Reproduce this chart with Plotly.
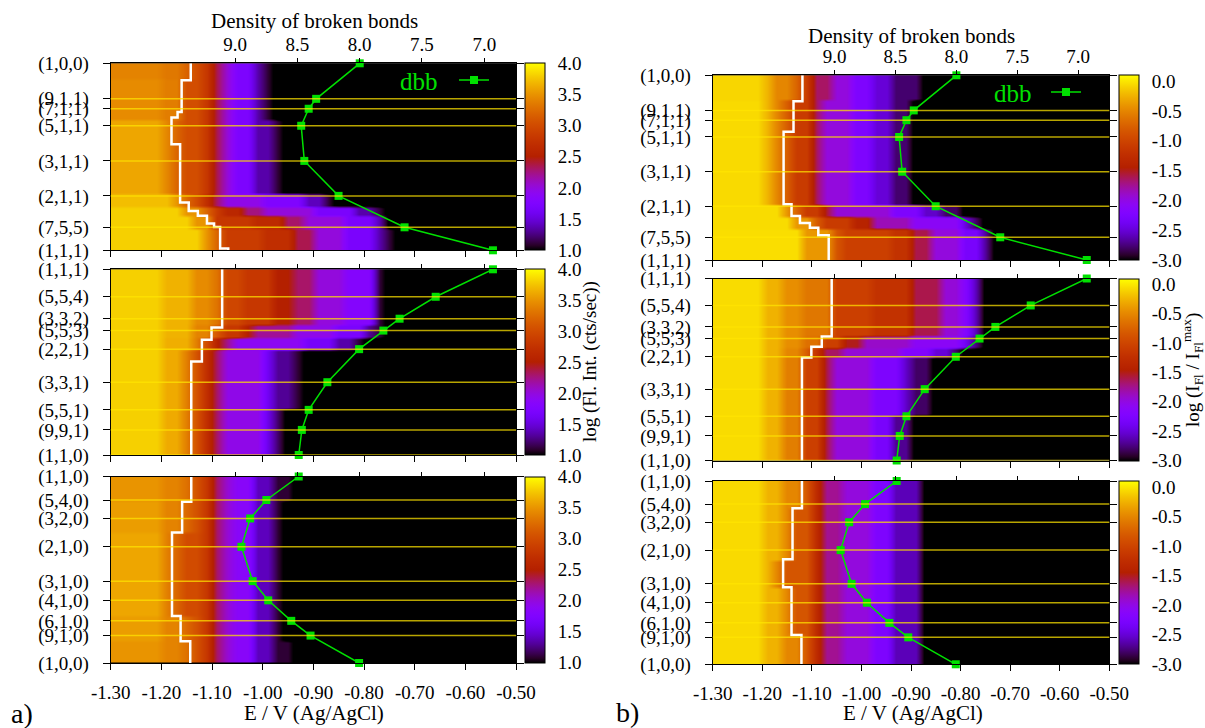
import numpy as np
import plotly.graph_objects as go

FONT = "Liberation Serif"
GREEN = "#00e000"

# ---------------------------------------------------------------------------
# Facets along the three zones, their position along the zone
# (0 = first facet, 1 = last facet) and the density of broken bonds
# ---------------------------------------------------------------------------
LABELS_100_111 = ["(1,0,0)", "(9,1,1)", "(7,1,1)", "(5,1,1)", "(3,1,1)", "(2,1,1)", "(7,5,5)", "(1,1,1)"]
POS_100_111 = [0.0, 0.190, 0.243, 0.334, 0.522, 0.709, 0.877, 1.0]
DBB_100_111 = [8.00, 8.35, 8.41, 8.47, 8.445, 8.17, 7.64, 6.93]

LABELS_111_110 = ["(1,1,1)", "(5,5,4)", "(3,3,2)", "(5,5,3)", "(2,2,1)", "(3,3,1)", "(5,5,1)", "(9,9,1)", "(1,1,0)"]
POS_111_110 = [0.0, 0.148, 0.266, 0.330, 0.430, 0.608, 0.757, 0.865, 1.0]
DBB_111_110 = [6.93, 7.39, 7.68, 7.81, 8.005, 8.26, 8.41, 8.465, 8.49]

LABELS_110_100 = ["(1,1,0)", "(5,4,0)", "(3,2,0)", "(2,1,0)", "(3,1,0)", "(4,1,0)", "(6,1,0)", "(9,1,0)", "(1,0,0)"]
POS_110_100 = [0.0, 0.126, 0.225, 0.377, 0.561, 0.664, 0.774, 0.853, 1.0]
DBB_110_100 = [8.49, 8.75, 8.88, 8.95, 8.86, 8.735, 8.55, 8.395, 8.005]

# Onset of the fluorescence: (position where the step starts, E / V)
ONSET_A_100_111 = [(0.0, -1.142), (0.09, -1.160), (0.26, -1.168), (0.29, -1.180), (0.433, -1.163),
                   (0.745, -1.146), (0.79, -1.128), (0.815, -1.110), (0.857, -1.096), (0.875, -1.084),
                   (0.99, -1.068)]
ONSET_A_111_110 = [(0.0, -1.080), (0.314, -1.101), (0.38, -1.120), (0.496, -1.141)]
ONSET_A_110_100 = [(0.0, -1.141), (0.135, -1.159), (0.30, -1.179), (0.748, -1.162), (0.883, -1.143)]
ONSET_B_100_111 = [(0.0, -1.119), (0.14, -1.137), (0.306, -1.157), (0.698, -1.141), (0.762, -1.124),
                   (0.80, -1.104), (0.825, -1.087), (0.866, -1.066)]
ONSET_B_111_110 = [(0.0, -1.060), (0.318, -1.080), (0.375, -1.101), (0.434, -1.120)]
ONSET_B_110_100 = [(0.0, -1.120), (0.149, -1.139), (0.427, -1.158), (0.58, -1.141), (0.84, -1.121)]

# ---------------------------------------------------------------------------
# Fluorescence maps.  Each profile lists (upper potential of a band / V, value)
# from negative to positive potential; beyond the last band the map sits at
# its floor.  Row tables give (position from, position to, profile).
# ---------------------------------------------------------------------------
MAP_A_100_111_PROFILES = {
    "p0": [(-1.292, 3.3), (-1.20, 3.4), (-1.165, 3.33), (-1.142, 3.18), (-1.126, 3.02), (-1.104, 2.8),
           (-1.09, 2.35), (-1.058, 2.0), (-1.022, 1.72), (-1.0, 1.35), (-0.98, 1.1)],
    "p1": [(-1.292, 3.33), (-1.20, 3.45), (-1.17, 3.36), (-1.155, 3.2), (-1.126, 3.02), (-1.104, 2.8),
           (-1.09, 2.35), (-1.058, 2.0), (-1.022, 1.72), (-0.995, 1.35), (-0.975, 1.1)],
    "p2": [(-1.292, 3.4), (-1.20, 3.6), (-1.185, 3.42), (-1.165, 3.2), (-1.13, 3.02), (-1.106, 2.8),
           (-1.09, 2.35), (-1.058, 2.0), (-1.022, 1.72), (-0.99, 1.35), (-0.96, 1.1)],
    "p3": [(-1.292, 3.5), (-1.18, 3.72), (-1.16, 3.5), (-1.14, 3.22), (-1.12, 3.0), (-1.10, 2.7),
           (-1.08, 2.3), (-1.00, 1.95), (-0.93, 1.75), (-0.89, 1.4), (-0.86, 1.1)],
    "p4": [(-1.292, 3.55), (-1.16, 3.8), (-1.13, 3.5), (-1.11, 3.2), (-1.08, 2.85), (-1.04, 2.6),
           (-1.00, 2.25), (-0.90, 2.0), (-0.82, 1.7), (-0.79, 1.35), (-0.77, 1.1)],
    "p5": [(-1.292, 3.55), (-1.14, 3.8), (-1.11, 3.5), (-1.095, 3.2), (-1.02, 2.8), (-0.96, 2.65),
           (-0.92, 2.3), (-0.84, 2.0), (-0.79, 1.7), (-0.77, 1.35), (-0.755, 1.1)],
    "p6": [(-1.292, 3.55), (-1.12, 3.8), (-1.10, 3.5), (-1.085, 3.2), (-1.00, 2.85), (-0.945, 2.7),
           (-0.90, 2.35), (-0.84, 2.0), (-0.79, 1.7), (-0.765, 1.35), (-0.75, 1.1)],
}
MAP_A_100_111_ROWS = [(0.0, 0.09, "p0"), (0.09, 0.30, "p1"), (0.30, 0.70, "p2"), (0.70, 0.76, "p3"),
                      (0.76, 0.82, "p4"), (0.82, 0.88, "p5"), (0.88, 1.0, "p6")]

MAP_A_111_110_PROFILES = {
    "m0": [(-1.292, 3.55), (-1.20, 3.8), (-1.15, 3.66), (-1.10, 3.45), (-1.08, 3.3), (-1.04, 2.95),
           (-0.99, 2.8), (-0.95, 2.5), (-0.91, 2.3), (-0.85, 2.0), (-0.79, 1.8), (-0.775, 1.35), (-0.765, 1.1)],
    "m1": [(-1.292, 3.55), (-1.20, 3.8), (-1.15, 3.66), (-1.10, 3.4), (-1.08, 3.1), (-1.05, 2.8),
           (-1.02, 2.5), (-0.95, 2.2), (-0.86, 1.95), (-0.80, 1.7), (-0.78, 1.3), (-0.77, 1.1)],
    "m2": [(-1.292, 3.55), (-1.20, 3.8), (-1.15, 3.64), (-1.12, 3.36), (-1.10, 3.0), (-1.08, 2.55),
           (-1.06, 2.2), (-0.92, 1.9), (-0.86, 1.65), (-0.82, 1.35), (-0.80, 1.1)],
    "m3": [(-1.292, 3.55), (-1.20, 3.8), (-1.16, 3.62), (-1.14, 3.36), (-1.12, 3.05), (-1.10, 2.7),
           (-1.08, 2.3), (-1.00, 1.95), (-0.98, 1.6), (-0.95, 1.3), (-0.92, 1.1)],
    "m4": [(-1.292, 3.55), (-1.20, 3.8), (-1.16, 3.62), (-1.14, 3.36), (-1.12, 3.05), (-1.10, 2.7),
           (-1.08, 2.3), (-1.00, 1.95), (-0.985, 1.55), (-0.97, 1.2)],
}
MAP_A_111_110_ROWS = [(0.0, 0.30, "m0"), (0.30, 0.36, "m1"), (0.36, 0.44, "m2"), (0.44, 0.75, "m3"),
                      (0.75, 1.0, "m4")]

MAP_A_110_100_PROFILES = {
    "edge": [(-1.292, 3.35), (-1.20, 3.5), (-1.165, 3.4), (-1.142, 3.28), (-1.122, 3.05), (-1.103, 2.8),
             (-1.085, 2.3), (-1.055, 2.02), (-1.023, 1.85), (-0.98, 1.4), (-0.945, 1.1)],
    "shoulder": [(-1.292, 3.38), (-1.20, 3.55), (-1.17, 3.4), (-1.15, 3.22), (-1.122, 3.05), (-1.103, 2.8),
                 (-1.085, 2.3), (-1.055, 2.02), (-1.023, 1.85), (-0.98, 1.4), (-0.96, 1.1)],
    "centre": [(-1.292, 3.42), (-1.20, 3.6), (-1.185, 3.38), (-1.165, 3.2), (-1.125, 3.0), (-1.105, 2.8),
               (-1.085, 2.3), (-1.055, 2.02), (-1.023, 1.85), (-0.98, 1.4), (-0.96, 1.1)],
}
MAP_A_110_100_ROWS = [(0.0, 0.14, "edge"), (0.14, 0.30, "shoulder"), (0.30, 0.75, "centre"),
                      (0.75, 0.88, "shoulder"), (0.88, 1.0, "edge")]

MAP_B_100_111_PROFILES = {
    "t0": [(-1.292, -0.3), (-1.20, -0.08), (-1.177, -0.25), (-1.138, -0.5), (-1.119, -0.74), (-1.095, -1.1),
           (-1.07, -1.65), (-1.015, -1.97), (-0.975, -2.25), (-0.935, -2.5), (-0.88, -2.78)],
    "t1": [(-1.292, -0.3), (-1.20, -0.06), (-1.18, -0.25), (-1.157, -0.5), (-1.135, -0.78), (-1.10, -1.1),
           (-1.075, -1.65), (-1.015, -1.97), (-0.975, -2.25), (-0.935, -2.5), (-0.90, -2.78)],
    "t2": [(-1.292, -0.25), (-1.17, -0.05), (-1.141, -0.4), (-1.12, -0.75), (-1.09, -1.1), (-1.06, -1.55),
           (-0.95, -1.95), (-0.88, -2.25), (-0.84, -2.55), (-0.80, -2.8)],
    "t3": [(-1.292, -0.25), (-1.15, -0.05), (-1.105, -0.4), (-1.08, -0.8), (-1.03, -1.1), (-0.98, -1.4),
           (-0.90, -1.85), (-0.80, -2.1), (-0.775, -2.5), (-0.76, -2.8)],
    "t4": [(-1.292, -0.25), (-1.12, -0.04), (-1.066, -0.4), (-1.05, -0.85), (-0.95, -1.05), (-0.905, -1.2),
           (-0.858, -1.6), (-0.796, -1.97), (-0.768, -2.3), (-0.75, -2.7)],
}
MAP_B_100_111_ROWS = [(0.0, 0.14, "t0"), (0.14, 0.70, "t1"), (0.70, 0.76, "t2"), (0.76, 0.83, "t3"),
                      (0.83, 1.0, "t4")]

MAP_B_111_110_PROFILES = {
    "n0": [(-1.292, -0.25), (-1.20, -0.05), (-1.16, -0.25), (-1.123, -0.45), (-1.06, -0.6), (-0.99, -1.05),
           (-0.905, -1.2), (-0.85, -1.6), (-0.80, -1.95), (-0.772, -2.2), (-0.755, -2.6)],
    "n1": [(-1.292, -0.25), (-1.20, -0.05), (-1.16, -0.25), (-1.123, -0.45), (-1.08, -0.65), (-1.05, -1.05),
           (-1.0, -1.5), (-0.90, -1.9), (-0.80, -2.1), (-0.78, -2.4), (-0.76, -2.75)],
    "n2": [(-1.292, -0.25), (-1.20, -0.05), (-1.16, -0.25), (-1.125, -0.5), (-1.10, -0.8), (-1.075, -1.2),
           (-1.05, -1.65), (-0.92, -1.95), (-0.86, -2.2), (-0.82, -2.5), (-0.80, -2.8)],
    "n3": [(-1.292, -0.25), (-1.20, -0.05), (-1.16, -0.25), (-1.12, -0.55), (-1.09, -1.05), (-1.06, -1.6),
           (-0.98, -1.97), (-0.93, -2.25), (-0.895, -2.55), (-0.87, -2.8)],
    "n4": [(-1.292, -0.25), (-1.20, -0.05), (-1.16, -0.25), (-1.12, -0.55), (-1.09, -1.05), (-1.06, -1.6),
           (-0.98, -1.97), (-0.935, -2.3), (-0.91, -2.7)],
}
MAP_B_111_110_ROWS = [(0.0, 0.32, "n0"), (0.32, 0.38, "n1"), (0.38, 0.44, "n2"), (0.44, 0.75, "n3"),
                      (0.75, 1.0, "n4")]

MAP_B_110_100_PROFILES = {
    "c0": [(-1.292, -0.3), (-1.20, -0.06), (-1.16, -0.25), (-1.12, -0.5), (-1.10, -0.85), (-1.078, -1.3),
           (-1.044, -1.75), (-0.98, -1.97), (-0.943, -2.25), (-0.885, -2.6)],
    "c1": [(-1.292, -0.3), (-1.20, -0.06), (-1.17, -0.25), (-1.135, -0.5), (-1.105, -0.85), (-1.08, -1.3),
           (-1.044, -1.75), (-0.98, -1.97), (-0.943, -2.25), (-0.885, -2.6)],
    "c2": [(-1.292, -0.3), (-1.20, -0.06), (-1.18, -0.25), (-1.155, -0.5), (-1.11, -0.85), (-1.08, -1.3),
           (-1.044, -1.75), (-0.98, -1.97), (-0.943, -2.25), (-0.885, -2.6)],
}
MAP_B_110_100_ROWS = [(0.0, 0.15, "c0"), (0.15, 0.43, "c1"), (0.43, 0.58, "c2"), (0.58, 0.84, "c1"),
                      (0.84, 1.0, "c0")]

FLOOR_A, ZMIN_A, ZMAX_A = 0.9, 1.0, 4.0
FLOOR_B, ZMIN_B, ZMAX_B = -3.1, -3.0, 0.1

# Axis ticks
E_TICKS = [-1.30, -1.20, -1.10, -1.00, -0.90, -0.80, -0.70, -0.60, -0.50]
DBB_TICKS = [9.0, 8.5, 8.0, 7.5, 7.0]
CB_TICKS_A = [1.0, 1.5, 2.0, 2.5, 3.0, 3.5, 4.0]
CB_TICKS_B = [-3.0, -2.5, -2.0, -1.5, -1.0, -0.5, 0.0]

# Map grid: 20 mV columns, 60 rows along the zone
E_CENTRES = -1.29 + 0.02 * np.arange(40)
P_CENTRES = (np.arange(60) + 0.5) / 60


def build_map(rows, profiles, floor):
    z = np.full((P_CENTRES.size, E_CENTRES.size), floor)
    for p0, p1, key in rows:
        line = np.full(E_CENTRES.size, floor)
        for j, e in enumerate(E_CENTRES):
            for e_end, v in profiles[key]:
                if e <= e_end:
                    line[j] = v
                    break
        z[(P_CENTRES >= p0) & (P_CENTRES < p1)] = line
    return z


# gnuplot-style rgbformulae 7,5,15 palette (black - blue - violet - red - yellow)
def gnuplot_palette(n=41):
    stops = []
    for t in np.linspace(0, 1, n):
        r = np.sqrt(t)
        g = t ** 3
        b = max(0.0, np.sin(2 * np.pi * t))
        stops.append([float(t), f"rgb({int(round(255 * r))},{int(round(255 * g))},{int(round(255 * b))})"])
    return stops


PALETTE = gnuplot_palette()

# Page geometry in pixels
W, H = 1205, 728


def fx(px):
    return px / W


def fy(py):
    return 1 - py / H


PANELS = {
    "a": dict(left=110.7, right=516.0, cb=525.0,
              rows=[(63.3, 250.3), (269.3, 455.0), (476.5, 663.0)],
              zmin=ZMIN_A, zmax=ZMAX_A, cbticks=CB_TICKS_A,
              maps=[(MAP_A_100_111_ROWS, MAP_A_100_111_PROFILES), (MAP_A_111_110_ROWS, MAP_A_111_110_PROFILES),
                    (MAP_A_110_100_ROWS, MAP_A_110_100_PROFILES)],
              floor=FLOOR_A, onsets=[ONSET_A_100_111, ONSET_A_111_110, ONSET_A_110_100]),
    "b": dict(left=712.7, right=1109.3, cb=1119.0,
              rows=[(75.3, 260.0), (278.5, 460.5), (481.0, 664.3)],
              zmin=ZMIN_B, zmax=ZMAX_B, cbticks=CB_TICKS_B,
              maps=[(MAP_B_100_111_ROWS, MAP_B_100_111_PROFILES), (MAP_B_111_110_ROWS, MAP_B_111_110_PROFILES),
                    (MAP_B_110_100_ROWS, MAP_B_110_100_PROFILES)],
              floor=FLOOR_B, onsets=[ONSET_B_100_111, ONSET_B_111_110, ONSET_B_110_100]),
}
ZONES = [(LABELS_100_111, POS_100_111, DBB_100_111),
         (LABELS_111_110, POS_111_110, DBB_111_110),
         (LABELS_110_100, POS_110_100, DBB_110_100)]
# facets that get a yellow guide line in each zone
GUIDES = [POS_100_111[1:-1], POS_111_110[1:], POS_110_100[1:-1]]

tickfont = dict(family=FONT, size=19, color="black")
fig = go.Figure()
layout = {}
shapes = []

for pi, key in enumerate(["a", "b"]):
    P = PANELS[key]
    for ri in range(3):
        k = pi * 3 + ri + 1
        kd = 6 + k
        top, bot = P["rows"][ri]
        labels, pos, dbb = ZONES[ri]
        sfx = "" if k == 1 else str(k)
        xs, ys, xds = f"x{sfx}", f"y{sfx}", f"x{kd}"

        z = build_map(P["maps"][ri][0], P["maps"][ri][1], P["floor"])
        fig.add_trace(go.Heatmap(
            x=E_CENTRES, y=P_CENTRES, z=z, xaxis=xs, yaxis=ys,
            colorscale=PALETTE, zmin=P["zmin"], zmax=P["zmax"], zsmooth="best",
            hoverinfo="skip",
            colorbar=dict(x=fx(P["cb"]), xanchor="left", xpad=0, ypad=0,
                          thickness=20, thicknessmode="pixels",
                          y=fy((top + bot) / 2), yanchor="middle",
                          len=(bot - top) / H, lenmode="fraction",
                          tickvals=P["cbticks"], ticktext=[f"{v:.1f}" for v in P["cbticks"]],
                          ticks="outside", ticklen=9, tickcolor="rgba(0,0,0,0)",
                          tickfont=tickfont, outlinecolor="black", outlinewidth=1),
        ))

        onset = P["onsets"][ri]
        fig.add_trace(go.Scatter(
            x=[e for _, e in onset] + [onset[-1][1]], y=[p for p, _ in onset] + [1.0],
            xaxis=xs, yaxis=ys, mode="lines", line=dict(color="white", width=2.5, shape="vh"),
            showlegend=False, hoverinfo="skip"))

        fig.add_trace(go.Scatter(
            x=dbb, y=pos, xaxis=xds, yaxis=ys, mode="lines+markers", name="",
            line=dict(color=GREEN, width=1.5),
            marker=dict(symbol="square", size=8, color=GREEN),
            cliponaxis=False, showlegend=(ri == 0),
            legend=("legend" if key == "a" else "legend2")))

        for p in GUIDES[ri]:
            shapes.append(dict(type="line", xref=f"{xs} domain", yref=ys, x0=0, x1=1, y0=p, y1=p,
                               line=dict(color="rgba(255,228,0,0.72)", width=1.5), layer="above"))

        layout[f"xaxis{sfx}"] = dict(
            domain=[fx(P["left"]), fx(P["right"])], anchor=ys, range=[-1.30, -0.50],
            tickvals=E_TICKS, ticktext=[f"{v:.2f}" for v in E_TICKS], showticklabels=(ri == 2),
            ticks="outside", ticklen=6, tickcolor="black", showline=True, linecolor="black", linewidth=1,
            showgrid=False, zeroline=False, tickfont=tickfont, ticklabelstandoff=6, automargin=False)
        layout[f"xaxis{kd}"] = dict(
            overlaying=xs, anchor=ys, side="top", range=[10.0, 6.745],
            tickvals=DBB_TICKS, ticktext=[f"{v:.1f}" for v in DBB_TICKS], showticklabels=(ri == 0),
            ticks="outside", ticklen=4, tickcolor="black", showline=True, linecolor="black", linewidth=1,
            showgrid=False, zeroline=False, tickfont=tickfont, ticklabelstandoff=0, automargin=False)
        layout[f"yaxis{sfx}"] = dict(
            domain=[fy(bot), fy(top)], anchor=xs, range=[1.0, 0.0],
            tickvals=pos, ticktext=labels, ticks="outside", ticklen=7, tickcolor="black",
            showline=True, linecolor="black", linewidth=1, mirror="ticks",
            showgrid=False, zeroline=False, tickfont=tickfont, ticklabelstandoff=10, automargin=False)


def label(text, px, py, size, color="black", angle=0):
    return dict(text=text, x=fx(px), y=fy(py), xref="paper", yref="paper", xanchor="center",
                yanchor="middle", textangle=angle, showarrow=False,
                font=dict(family=FONT, size=size, color=color))


annotations = [
    label("Density of broken bonds", 314, 21, 21),
    label("Density of broken bonds", 911, 36, 21),
    label("E / V (Ag/AgCl)", 314, 713, 21),
    label("E / V (Ag/AgCl)", 913, 713, 21),
    label("a)", 22, 713, 28),
    label("b)", 627, 712, 28),
    label("log (Fl. Int. (cts/sec))", 590, 362, 19, angle=-90),
    label("log (I<sub>Fl</sub> / I<sub>Fl</sub><sup>max</sup>)", 1192, 370, 19, angle=-90),
    label("dbb", 419, 81, 25, GREEN),
    label("dbb", 1013, 93, 25, GREEN),
]

legend_style = dict(xanchor="left", yanchor="middle", bgcolor="rgba(0,0,0,0)", borderwidth=0,
                    font=dict(family=FONT, size=20, color=GREEN), itemwidth=30)
layout["legend"] = dict(x=fx(454), y=fy(80), **legend_style)
layout["legend2"] = dict(x=fx(1046), y=fy(92), **legend_style)

fig.update_layout(
    width=W, height=H, margin=dict(l=0, r=0, t=0, b=0, autoexpand=False),
    paper_bgcolor="white", plot_bgcolor="black",
    font=dict(family=FONT, color="black"),
    annotations=annotations, shapes=shapes, showlegend=True,
    **layout,
)

fig.write_html("out.html")
